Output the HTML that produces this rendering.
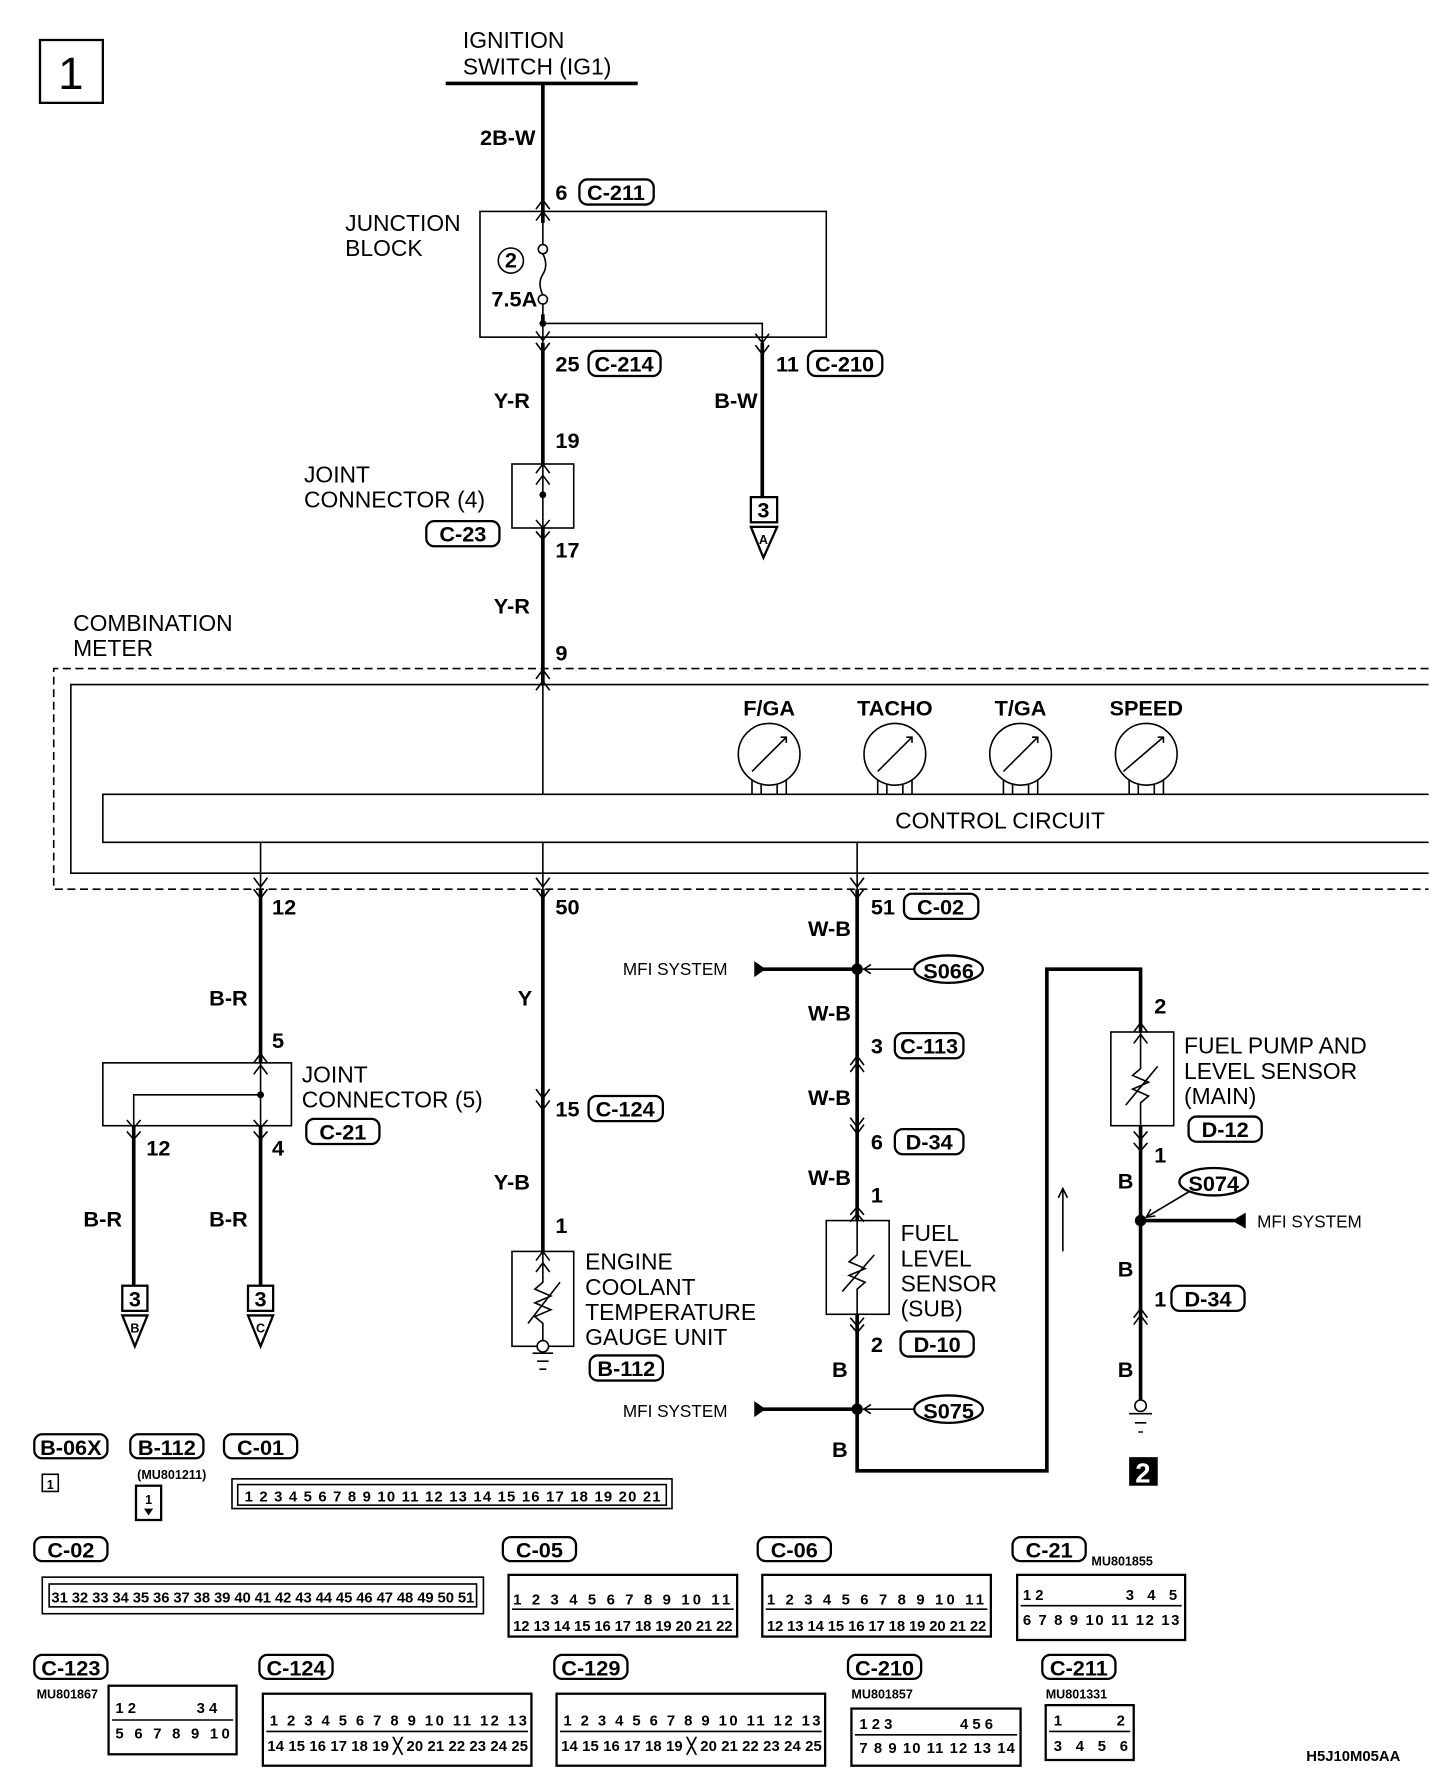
<!DOCTYPE html>
<html><head><meta charset="utf-8"><style>
html,body{margin:0;padding:0;background:#fff}
svg{display:block}
text{font-family:"Liberation Sans",sans-serif;fill:#000}
.b{font-weight:bold;font-size:19px}
.n{font-size:20px}
.s{font-size:15px}
.c{font-weight:bold;font-size:13px}
.t{font-weight:bold;font-size:11px}
.w{stroke:#000;stroke-width:3.2;fill:none}
.l{stroke:#000;stroke-width:1.4;fill:none}
.m{stroke:#000;stroke-width:2;fill:none}
</style></head><body>
<svg width="1456" height="1792" viewBox="0 0 1274 1568" xmlns="http://www.w3.org/2000/svg">
<rect x="35" y="35" width="55" height="55" class="m"/>
<text x="62" y="78" font-size="40" text-anchor="middle">1</text>

<text x="405" y="42" class="n">IGNITION</text>
<text x="405" y="65" class="n">SWITCH (IG1)</text>
<line x1="390" y1="73" x2="558" y2="73" class="w"/>
<line x1="475" y1="73" x2="475" y2="283" class="w"/>
<text x="420" y="127" class="b">2B-W</text>
<text x="486" y="175" class="b">6</text>
<rect x="507" y="157" width="65" height="22" rx="7" class="m"/><text x="539" y="175" class="b" text-anchor="middle">C-211</text>
<path d="M469 183 L475 175 L481 183 M469 193 L475 185 L481 193" class="l"/>
<rect x="420" y="185" width="303" height="110" class="l"/>
<text x="302" y="202" class="n">JUNCTION</text><text x="302" y="224" class="n">BLOCK</text>
<rect x="472" y="195" width="6" height="80" fill="#fff"/>
<line x1="475" y1="185" x2="475" y2="214" class="l"/>
<circle cx="475" cy="218" r="4" fill="#fff" stroke="#000" stroke-width="1.4"/>
<path d="M475 222 Q480 232 475 240 Q470 248 475 258" class="l"/>
<circle cx="475" cy="262" r="4" fill="#fff" stroke="#000" stroke-width="1.4"/>
<line x1="475" y1="266" x2="475" y2="300" class="l"/>
<circle cx="447" cy="228" r="11" class="l"/><text x="447" y="234" class="b" text-anchor="middle" font-size="16">2</text>
<text x="430" y="268" class="b" font-size="17">7.5A</text>
<circle cx="475" cy="283" r="3" fill="#000"/>
<path d="M475 283 H667 V300" class="l"/>
<path d="M469 290 L475 298 L481 290 M469 300 L475 308 L481 300 M661 292 L667 300 L673 292 M661 302 L667 310 L673 302" class="l"/>
<line x1="475" y1="300" x2="475" y2="406" class="w"/>
<line x1="667" y1="300" x2="667" y2="435" class="w"/>
<text x="486" y="325" class="b">25</text>
<rect x="515" y="307" width="63" height="22" rx="7" class="m"/><text x="546" y="325" class="b" text-anchor="middle">C-214</text>
<text x="679" y="325" class="b">11</text>
<rect x="707" y="307" width="65" height="22" rx="7" class="m"/><text x="739" y="325" class="b" text-anchor="middle">C-210</text>
<text x="432" y="357" class="b">Y-R</text><text x="625" y="357" class="b">B-W</text>
<text x="486" y="392" class="b">19</text>
<path d="M469 414 L475 406 L481 414 M469 424 L475 416 L481 424" class="l"/>
<rect x="448" y="406" width="54" height="56" class="l"/>
<line x1="475" y1="406" x2="475" y2="462" class="l"/><circle cx="475" cy="433" r="3" fill="#000"/>
<path d="M469 455 L475 462 L481 455 M469 465 L475 472 L481 465" class="l"/>
<text x="266" y="422" class="n">JOINT</text><text x="266" y="444" class="n">CONNECTOR (4)</text>
<rect x="373" y="456" width="64" height="22" rx="7" class="m"/><text x="405" y="474" class="b" text-anchor="middle">C-23</text>
<text x="486" y="488" class="b">17</text>
<rect x="657" y="435" width="23" height="22" class="m"/><text x="668" y="453" class="b" text-anchor="middle" font-size="17">3</text>
<path d="M657 461 H680 L668 488 Z" class="m"/><text x="668" y="476" class="t" text-anchor="middle">A</text>
<line x1="475" y1="462" x2="475" y2="600" class="w"/>
<text x="432" y="537" class="b">Y-R</text>
<text x="486" y="578" class="b">9</text>
<text x="64" y="552" class="n">COMBINATION</text><text x="64" y="574" class="n">METER</text>
<path d="M1250 585 H47 V778 H1250" stroke="#000" stroke-width="1.4" stroke-dasharray="7,4" fill="none"/>
<path d="M1250 599 H62 V764 H1250" class="l"/>
<path d="M469 594 L475 586 L481 594 M469 604 L475 596 L481 604" class="l"/>
<line x1="475" y1="600" x2="475" y2="695" class="l"/>
<path d="M1250 695 H90 V737 H1250" class="l"/>
<text x="875" y="725" class="n" text-anchor="middle">CONTROL CIRCUIT</text>
<g class="l">
<circle cx="673" cy="660" r="27"/><circle cx="783" cy="660" r="27"/><circle cx="893" cy="660" r="27"/><circle cx="1003" cy="660" r="27"/>
<path d="M658 682V695M666 686V695M680 686V695M688 682V695M768 682V695M776 686V695M790 686V695M798 682V695M878 682V695M886 686V695M900 686V695M908 682V695M988 682V695M996 686V695M1010 686V695M1018 682V695"/>
<path d="M658 675L688 645M983 675L1018 645M878 675L908 645M768 675L798 645"/>
</g>
<path d="M683 645l5 0 0 5M793 645l5 0 0 5M903 645l5 0 0 5M1013 645l5 0 0 5" class="l"/>
<text x="673" y="626" class="b" text-anchor="middle" font-size="17">F/GA</text>
<text x="783" y="626" class="b" text-anchor="middle" font-size="17">TACHO</text>
<text x="893" y="626" class="b" text-anchor="middle" font-size="17">T/GA</text>
<text x="1003" y="626" class="b" text-anchor="middle" font-size="17">SPEED</text>
<path d="M228 737V778M475 737V778M750 737V778" class="l"/>
<path d="M222 768 L228 776 L234 768 M222 778 L228 786 L234 778 M469 768 L475 776 L481 768 M469 778 L475 786 L481 778 M744 768 L750 776 L756 768 M744 778 L750 786 L756 778" class="l"/>
<line x1="228" y1="778" x2="228" y2="930" class="w"/>
<line x1="475" y1="778" x2="475" y2="1095" class="w"/>
<line x1="750" y1="778" x2="750" y2="1068" class="w"/>
<text x="238" y="800" class="b">12</text><text x="486" y="800" class="b">50</text>
<text x="762" y="800" class="b">51</text>
<rect x="791" y="782" width="65" height="22" rx="7" class="m"/><text x="823" y="800" class="b" text-anchor="middle">C-02</text>

<text x="183" y="880" class="b">B-R</text>
<text x="238" y="917" class="b">5</text>
<path d="M222 930 L228 922 L234 930 M222 940 L228 932 L234 940" class="l"/>
<rect x="90" y="930" width="165" height="55" class="l"/>
<path d="M228 930V985M228 958H117V985" class="l"/><circle cx="228" cy="958" r="3" fill="#000"/>
<path d="M111 980 L117 987 L123 980 M111 990 L117 997 L123 990 M222 980 L228 987 L234 980 M222 990 L228 997 L234 990" class="l"/>
<text x="264" y="947" class="n">JOINT</text><text x="264" y="969" class="n">CONNECTOR (5)</text>
<rect x="268" y="979" width="64" height="22" rx="7" class="m"/><text x="300" y="997" class="b" text-anchor="middle">C-21</text>
<text x="128" y="1011" class="b">12</text><text x="238" y="1011" class="b">4</text>
<path d="M117 985V1125M228 985V1125" class="w"/>
<text x="73" y="1073" class="b">B-R</text><text x="183" y="1073" class="b">B-R</text>
<rect x="107" y="1125" width="22" height="22" class="m"/><text x="118" y="1143" class="b" text-anchor="middle" font-size="17">3</text>
<path d="M107 1151H129L118 1178Z" class="m"/><text x="118" y="1166" class="t" text-anchor="middle">B</text>
<rect x="217" y="1125" width="22" height="22" class="m"/><text x="228" y="1143" class="b" text-anchor="middle" font-size="17">3</text>
<path d="M217 1151H239L228 1178Z" class="m"/><text x="228" y="1166" class="t" text-anchor="middle">C</text>

<text x="453" y="880" class="b">Y</text>
<path d="M469 953 L475 961 L481 953 M469 963 L475 971 L481 963" class="l"/>
<text x="486" y="977" class="b">15</text>
<rect x="515" y="959" width="65" height="22" rx="7" class="m"/><text x="547" y="977" class="b" text-anchor="middle">C-124</text>
<text x="432" y="1041" class="b">Y-B</text>
<text x="486" y="1079" class="b">1</text>
<path d="M469 1103 L475 1095 L481 1103 M469 1113 L475 1105 L481 1113" class="l"/>
<rect x="448" y="1095" width="54" height="83" class="l"/>
<path d="M475 1095V1122L468 1128L482 1134L468 1140L482 1146L468 1152L475 1158V1173M462 1158L490 1122" class="l"/>
<circle cx="475" cy="1178" r="5" fill="#fff" stroke="#000" stroke-width="1.4"/>
<path d="M466 1184H484M470 1191H480M472 1198H478" class="l"/>
<text x="512" y="1111" class="n">ENGINE</text><text x="512" y="1133" class="n">COOLANT</text>
<text x="512" y="1155" class="n">TEMPERATURE</text><text x="512" y="1177" class="n">GAUGE UNIT</text>
<rect x="516" y="1186" width="64" height="22" rx="7" class="m"/><text x="548" y="1204" class="b" text-anchor="middle">B-112</text>

<text x="707" y="819" class="b">W-B</text>
<text x="545" y="853" class="s">MFI SYSTEM</text>
<path d="M660 841V855L670 848Z" fill="#000"/><line x1="665" y1="848" x2="750" y2="848" class="w"/>
<circle cx="750" cy="848" r="5" fill="#000"/>
<path d="M755 848H800M762 844L756 848L762 852" class="l"/>
<ellipse cx="830" cy="848" rx="30" ry="12" class="m"/><text x="830" y="856" class="b" text-anchor="middle">S066</text>
<text x="707" y="893" class="b">W-B</text>
<text x="762" y="922" class="b">3</text>
<rect x="783" y="904" width="60" height="22" rx="7" class="m"/><text x="813" y="922" class="b" text-anchor="middle">C-113</text>
<path d="M744 932 L750 924 L756 932 M744 938 L750 930 L756 938" class="l"/>
<text x="707" y="967" class="b">W-B</text>
<path d="M744 978 L750 986 L756 978 M744 984 L750 992 L756 984" class="l"/>
<text x="762" y="1006" class="b">6</text>
<rect x="783" y="988" width="60" height="22" rx="7" class="m"/><text x="813" y="1006" class="b" text-anchor="middle">D-34</text>
<text x="707" y="1037" class="b">W-B</text>
<text x="762" y="1052" class="b">1</text>
<path d="M744 1063 L750 1056 L756 1063 M744 1069 L750 1062 L756 1069" class="l"/>
<rect x="723" y="1068" width="55" height="82" class="l"/>
<path d="M750 1068V1098L743 1104L757 1110L743 1116L757 1122L750 1128V1150M737 1130L765 1098" class="l"/>
<text x="788" y="1086" class="n">FUEL</text><text x="788" y="1108" class="n">LEVEL</text><text x="788" y="1130" class="n">SENSOR</text><text x="788" y="1152" class="n">(SUB)</text>
<path d="M744 1153 L750 1160 L756 1153 M744 1159 L750 1166 L756 1159" class="l"/>
<text x="762" y="1183" class="b">2</text>
<rect x="788" y="1165" width="64" height="22" rx="7" class="m"/><text x="820" y="1183" class="b" text-anchor="middle">D-10</text>
<text x="728" y="1205" class="b">B</text>
<text x="545" y="1240" class="s">MFI SYSTEM</text>
<path d="M660 1226V1240L670 1233Z" fill="#000"/><line x1="665" y1="1233" x2="750" y2="1233" class="w"/>
<circle cx="750" cy="1233" r="5" fill="#000"/>
<path d="M755 1233H800M762 1229L756 1233L762 1237" class="l"/>
<ellipse cx="830" cy="1233" rx="30" ry="12" class="m"/><text x="830" y="1241" class="b" text-anchor="middle">S075</text>
<text x="728" y="1275" class="b">B</text>
<path d="M750 1150V1287H916V848H998V903" class="w"/>
<path d="M930 1095V1040M926 1048L930 1040L934 1048" class="l"/>

<text x="1010" y="887" class="b">2</text>
<path d="M992 903 L998 895 L1004 903 M992 913 L998 905 L1004 913" class="l"/>
<rect x="972" y="903" width="55" height="82" class="l"/>
<path d="M998 903V935L991 941L1005 947L991 953L1005 959L998 965V985M985 967L1013 933" class="l"/>
<text x="1036" y="922" class="n">FUEL PUMP AND</text><text x="1036" y="944" class="n">LEVEL SENSOR</text><text x="1036" y="966" class="n">(MAIN)</text>
<rect x="1040" y="977" width="64" height="22" rx="7" class="m"/><text x="1072" y="995" class="b" text-anchor="middle">D-12</text>
<path d="M992 990 L998 997 L1004 990 M992 1000 L998 1007 L1004 1000" class="l"/>
<text x="1010" y="1017" class="b">1</text>
<line x1="998" y1="985" x2="998" y2="1225" class="w"/>
<text x="978" y="1040" class="b">B</text>
<ellipse cx="1062" cy="1034" rx="30" ry="12" class="m"/><text x="1062" y="1042" class="b" text-anchor="middle">S074</text>
<path d="M1040 1043L1003 1065M1007 1058L1003 1065L1011 1064" class="l"/>
<circle cx="998" cy="1068" r="5" fill="#000"/>
<line x1="998" y1="1068" x2="1080" y2="1068" class="w"/><path d="M1090 1061V1075L1078 1068Z" fill="#000"/>
<text x="1100" y="1074" class="s">MFI SYSTEM</text>
<text x="978" y="1117" class="b">B</text>
<text x="1010" y="1143" class="b">1</text>
<rect x="1025" y="1125" width="64" height="22" rx="7" class="m"/><text x="1057" y="1143" class="b" text-anchor="middle">D-34</text>
<path d="M992 1153 L998 1145 L1004 1153 M992 1159 L998 1151 L1004 1159" class="l"/>
<text x="978" y="1205" class="b">B</text>
<circle cx="998" cy="1230" r="5" fill="#fff" stroke="#000" stroke-width="1.4"/>
<path d="M988 1237H1008M993 1245H1003M996 1253H1000" class="l"/>
<rect x="988" y="1275" width="25" height="25" fill="#000"/><text x="1000" y="1297" font-size="24" font-weight="bold" text-anchor="middle" style="fill:#fff">2</text>

<g class="m">
<rect x="30" y="1255" width="64" height="21" rx="7"/><rect x="114" y="1255" width="64" height="21" rx="7"/><rect x="196" y="1255" width="64" height="21" rx="7"/>
<rect x="30" y="1345" width="64" height="21" rx="7"/><rect x="440" y="1345" width="64" height="21" rx="7"/><rect x="663" y="1345" width="64" height="21" rx="7"/><rect x="886" y="1345" width="64" height="21" rx="7"/>
<rect x="30" y="1448" width="64" height="21" rx="7"/><rect x="227" y="1448" width="64" height="21" rx="7"/><rect x="485" y="1448" width="64" height="21" rx="7"/><rect x="742" y="1448" width="64" height="21" rx="7"/><rect x="912" y="1448" width="64" height="21" rx="7"/>
</g>
<g class="b" text-anchor="middle">
<text x="62" y="1273">B-06X</text><text x="146" y="1273">B-112</text><text x="228" y="1273">C-01</text>
<text x="62" y="1363">C-02</text><text x="472" y="1363">C-05</text><text x="695" y="1363">C-06</text><text x="918" y="1363">C-21</text>
<text x="62" y="1466">C-123</text><text x="259" y="1466">C-124</text><text x="517" y="1466">C-129</text><text x="774" y="1466">C-210</text><text x="944" y="1466">C-211</text>
</g>
<rect x="37" y="1290" width="14" height="15" class="l"/><text x="44" y="1303" class="t" text-anchor="middle">1</text>
<text x="120" y="1294" class="t">(MU801211)</text>
<rect x="119" y="1300" width="22" height="30" class="m"/><text x="130" y="1316" class="t" text-anchor="middle">1</text><path d="M126 1320H134L130 1326Z" fill="#000"/>
<text x="955" y="1370" class="t">MU801855</text><text x="32" y="1486" class="t">MU801867</text>
<text x="745" y="1486" class="t">MU801857</text><text x="915" y="1486" class="t">MU801331</text>
<text x="1143" y="1541" class="c">H5J10M05AA</text>

<rect x="203" y="1294" width="385" height="26" class="l"/><rect x="208" y="1299" width="375" height="18" class="l"/>
<text x="214" y="1314" class="c" textLength="364" lengthAdjust="spacing">1 2 3 4 5 6 7 8 9 10 11 12 13 14 15 16 17 18 19 20 21</text>
<rect x="37" y="1380" width="386" height="32" class="l"/><rect x="43" y="1386" width="374" height="20" class="l"/>
<text x="45" y="1402" class="c" textLength="370" lengthAdjust="spacing">31 32 33 34 35 36 37 38 39 40 41 42 43 44 45 46 47 48 49 50 51</text>
<rect x="445" y="1378" width="200" height="54" class="m"/><line x1="448" y1="1408" x2="642" y2="1408" class="l"/>
<text x="449" y="1404" class="c" textLength="190" lengthAdjust="spacing">1 2 3 4 5 6 7 8 9 10 11</text>
<text x="449" y="1427" class="c" textLength="192" lengthAdjust="spacing">12 13 14 15 16 17 18 19 20 21 22</text>
<rect x="667" y="1378" width="200" height="54" class="m"/><line x1="670" y1="1408" x2="864" y2="1408" class="l"/>
<text x="671" y="1404" class="c" textLength="190" lengthAdjust="spacing">1 2 3 4 5 6 7 8 9 10 11</text>
<text x="671" y="1427" class="c" textLength="192" lengthAdjust="spacing">12 13 14 15 16 17 18 19 20 21 22</text>
<rect x="890" y="1378" width="147" height="57" class="m"/><line x1="893" y1="1405" x2="1034" y2="1405" class="l"/>
<text x="895" y="1400" class="c">1 2</text><text x="985" y="1400" class="c" textLength="45" lengthAdjust="spacing">3 4 5</text>
<text x="895" y="1422" class="c" textLength="137" lengthAdjust="spacing">6 7 8 9 10 11 12 13</text>
<rect x="95" y="1475" width="112" height="60" class="m"/><line x1="98" y1="1505" x2="204" y2="1505" class="l"/>
<text x="101" y="1499" class="c">1 2</text><text x="172" y="1499" class="c">3 4</text>
<text x="101" y="1521" class="c" textLength="100" lengthAdjust="spacing">5 6 7 8 9 10</text>
<rect x="230" y="1482" width="235" height="63" class="m"/><line x1="233" y1="1515" x2="462" y2="1515" class="l"/>
<text x="236" y="1510" class="c" textLength="225" lengthAdjust="spacing">1 2 3 4 5 6 7 8 9 10 11 12 13</text>
<text x="234" y="1532" class="c" textLength="228" lengthAdjust="spacing">14 15 16 17 18 19 ╳ 20 21 22 23 24 25</text>
<rect x="487" y="1482" width="235" height="63" class="m"/><line x1="490" y1="1515" x2="719" y2="1515" class="l"/>
<text x="493" y="1510" class="c" textLength="225" lengthAdjust="spacing">1 2 3 4 5 6 7 8 9 10 11 12 13</text>
<text x="491" y="1532" class="c" textLength="228" lengthAdjust="spacing">14 15 16 17 18 19 ╳ 20 21 22 23 24 25</text>
<rect x="745" y="1495" width="148" height="50" class="m"/><line x1="748" y1="1518" x2="890" y2="1518" class="l"/>
<text x="752" y="1513" class="c">1 2 3</text><text x="840" y="1513" class="c">4 5 6</text>
<text x="752" y="1534" class="c" textLength="136" lengthAdjust="spacing">7 8 9 10 11 12 13 14</text>
<rect x="915" y="1492" width="77" height="48" class="m"/><line x1="918" y1="1515" x2="989" y2="1515" class="l"/>
<text x="922" y="1510" class="c">1</text><text x="977" y="1510" class="c">2</text>
<text x="922" y="1532" class="c" textLength="65" lengthAdjust="spacing">3 4 5 6</text>
</svg>
</body></html>
